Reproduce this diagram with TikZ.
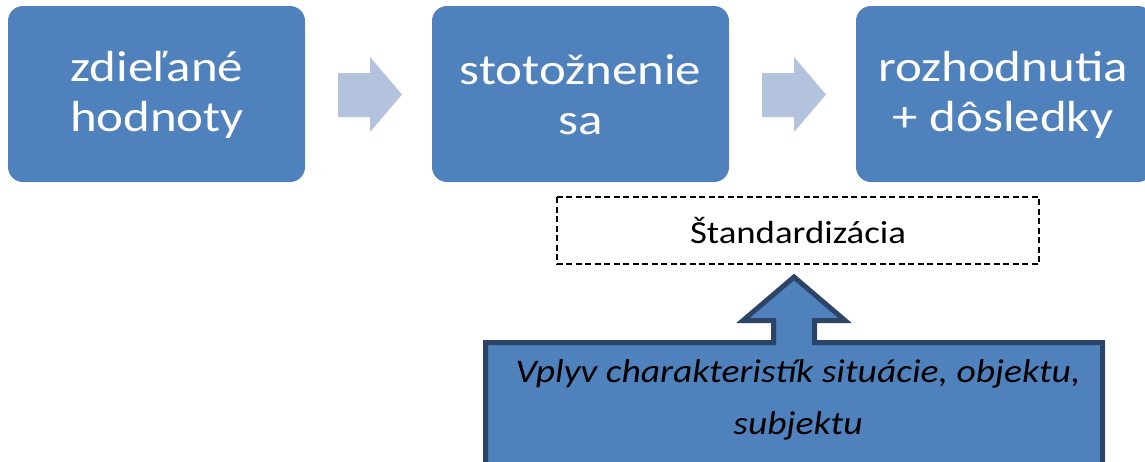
\documentclass[tikz,border=0pt]{standalone}
\usepackage{fontspec}
\newfontfamily\boxfont[FakeStretch=1.17]{Carlito}
\newfontfamily\stdfont[FakeStretch=1.15]{Carlito}
\newfontfamily\itfont[FakeStretch=1.14]{Carlito Italic}
\definecolor{boxblue}{HTML}{4F81BD}
\definecolor{lightarrow}{HTML}{B3C3DE}
\definecolor{navy}{HTML}{2B4468}
\tikzset{
  mainbox/.style={fill=boxblue, rounded corners=15pt, draw=none},
  maintext/.style={text=white, align=center, font=\boxfont\fontsize{43.5}{50}\selectfont, inner sep=0pt},
  flowarrow/.style={fill=lightarrow, draw=none},
  stdbox/.style={draw=black, line width=1.5pt, dash pattern=on 6pt off 3.5pt},
  bigarrow/.style={fill=boxblue, draw=navy, line width=5pt, line join=miter},
}
\begin{document}
\begin{tikzpicture}[x=1pt,y=-1pt]
\useasboundingbox (0,0) rectangle (1145,461);
\begin{scope}
\clip (0,0) rectangle (1145,461);
% main boxes
\fill[mainbox] (8,6) rectangle (305,182);
\node[maintext] (b1) at (157,95) {zdieľané\\hodnoty};
\fill[mainbox] (432,6) rectangle (729,182);
\node[maintext] (b2) at (580.5,95) {stotožnenie\\sa};
\fill[mainbox] (856,6) rectangle (1153,182);
\node[maintext] (b3) at (1003,95) {rozhodnutia\\+ dôsledky};
% flow arrows
\fill[flowarrow] (338,73) -- (370,73) -- (370,57) -- (402,94.5) -- (370,132) -- (370,117) -- (338,117) -- cycle;
\fill[flowarrow] (762,73) -- (794,73) -- (794,57) -- (826,94.5) -- (794,132) -- (794,117) -- (762,117) -- cycle;
% standardization box
\draw[stdbox] (557,197) rectangle (1039,264);
\node[font=\stdfont\fontsize{32}{38}\selectfont, inner sep=0pt] (std) at (798,231) {Štandardizácia};
% big up arrow
\draw[bigarrow] (794,277) -- (845,320.5) -- (814.5,320.5) -- (814.5,342.5) -- (1102.5,342.5) -- (1102.5,475) -- (485.5,475) -- (485.5,342.5) -- (773.5,342.5) -- (773.5,320.5) -- (743,320.5) -- cycle;
\node[font=\itfont\fontsize{33}{52}\selectfont, align=center, inner sep=0pt] (infl) at (798,400) {Vplyv charakteristík situácie, objektu,\\subjektu};
\end{scope}
\end{tikzpicture}
\end{document}
